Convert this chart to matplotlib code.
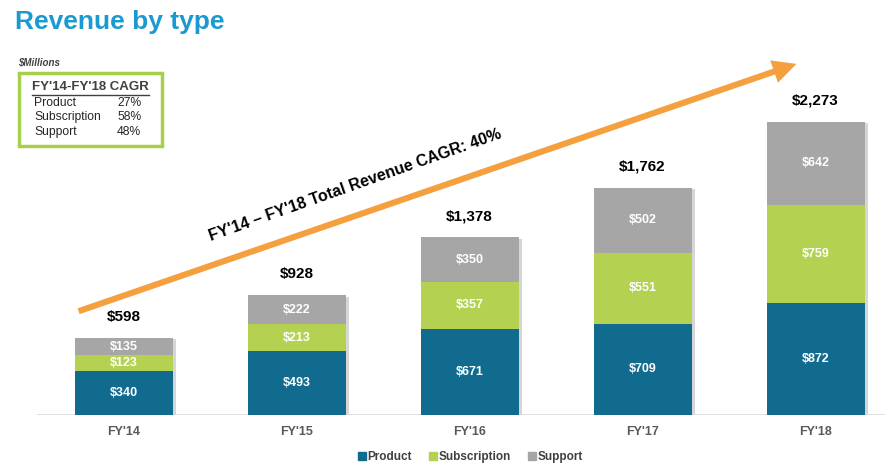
import numpy as np
import matplotlib.pyplot as plt
from matplotlib.patches import Rectangle
from matplotlib.lines import Line2D

plt.rcParams['font.family'] = ['Liberation Sans', 'DejaVu Sans']

years = ["FY'14", "FY'15", "FY'16", "FY'17", "FY'18"]
product = [340, 493, 671, 709, 872]
subscription = [123, 213, 357, 551, 759]
support = [135, 222, 350, 502, 642]
totals = [598, 928, 1378, 1762, 2273]

cagr_names = ['Product', 'Subscription', 'Support']
cagr_vals = ['27%', '58%', '48%']

c_prod = '#106b8f'
c_sub = '#b5d152'
c_sup = '#a6a6a6'

W, H = 896, 466
fig = plt.figure(figsize=(W / 100, H / 100), dpi=100)
# axes: baseline at y=415px, 0.1289 px per $M, bar spacing 173px
ax = fig.add_axes([37 / W, (H - 415) / H, (885 - 37) / W, 415 / H])
ax.set_xlim(-0.5, -0.5 + (885 - 37) / 173)
ax.set_ylim(0, 415 / 0.1289)
for sp in ax.spines.values():
    sp.set_visible(False)
ax.axhline(0, color='#d9d9d9', lw=1.2, zorder=1)
ax.set_yticks([])
ax.set_xticks([])

x = np.arange(len(years))
bw = 98 / 173
prod = np.array(product)
sub = np.array(subscription)
sup = np.array(support)
tot = prod + sub + sup

# soft shadow on the right
ax.bar(x + 0.018, tot - 10, bw, bottom=0, color='#d6d6d6', zorder=2)
ax.bar(x, prod, bw, color=c_prod, zorder=3)
ax.bar(x, sub, bw, bottom=prod, color=c_sub, zorder=3)
ax.bar(x, sup, bw, bottom=prod + sub, color=c_sup, zorder=3)

for i in range(len(years)):
    for val, base in ((prod[i], 0), (sub[i], prod[i]), (sup[i], prod[i] + sub[i])):
        ax.text(x[i], base + val / 2, f'${val:,}', color='white', fontsize=9,
                fontweight='bold', ha='center', va='center', zorder=4)
    ax.text(x[i], tot[i] + 165, f'${totals[i]:,}', color='black', fontsize=11,
            fontweight='bold', ha='center', va='center', zorder=4)
    ax.text(x[i], -130, years[i], color='#595959', fontsize=9,
            fontweight='bold', ha='center', va='center', clip_on=False)

# CAGR arrow
ax.annotate('', xy=(x[-1] - 0.095, tot[-1] + 458), xytext=(x[0] - 0.275, tot[0] + 200),
            arrowprops=dict(arrowstyle='simple,head_width=1.0,head_length=1.0,tail_width=0.26',
                            mutation_scale=17, color='#f4a03f', lw=0), zorder=5)
ax.text(1.338, 1784, "FY'14 \u2013 FY'18 Total Revenue CAGR: 40%", rotation=19.5,
        rotation_mode='anchor', ha='center', va='center', fontsize=11.5,
        fontweight='bold', color='black', zorder=6)

# title
fig.text(15 / W, 1 - 22 / H, 'Revenue by type', color='#1b9ad2', fontsize=19,
         fontweight='bold', ha='left', va='center')
fig.text(18 / W, 1 - 62 / H, '$Millions', color='#404040', fontsize=7,
         fontweight='bold', style='italic', ha='left', va='center')

# CAGR box
fig.patches.append(Rectangle((19 / W, (H - 146) / H), 143 / W, 73 / H,
                             transform=fig.transFigure, fill=False,
                             edgecolor='#a8cf4b', lw=2.5))
fig.text(90 / W, 1 - 87 / H, "FY'14-FY'18 CAGR", color='#404040', fontsize=9.5,
         fontweight='bold', ha='center', va='center')
fig.add_artist(Line2D([32 / W, 149 / W], [1 - 95 / H, 1 - 95 / H],
                      transform=fig.transFigure, color='#404040', lw=1))
for k, (nm, v) in enumerate(zip(cagr_names, cagr_vals)):
    yy = 1 - (103 + 14.5 * k) / H
    fig.text(34 / W, yy, nm, color='#262626', fontsize=8.7, ha='left', va='center')
    fig.text(117 / W, yy, v, color='#262626', fontsize=8.7, ha='left', va='center')

handles = [Line2D([], [], marker='s', ls='', color=c, markersize=6)
           for c in (c_prod, c_sub, c_sup)]
leg = fig.legend(handles, ['Product', 'Subscription', 'Support'], loc='center',
                 bbox_to_anchor=(470 / W, 9 / H), ncol=3, frameon=False,
                 handletextpad=0.05, columnspacing=1.4, handlelength=0.8,
                 prop={'weight': 'bold', 'size': 8.5})
for t in leg.get_texts():
    t.set_color('#404040')

fig.savefig('out.png', dpi=100)
